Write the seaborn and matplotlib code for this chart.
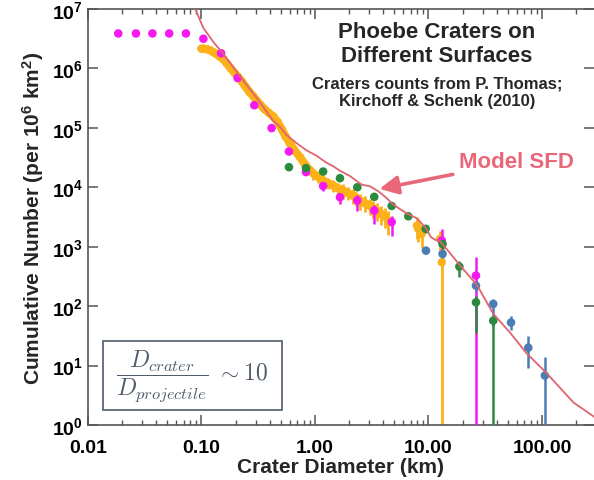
# Phoebe crater size-frequency distributions with the model SFD curve.

import matplotlib
matplotlib.use("Agg")
import matplotlib.pyplot as plt
import seaborn as sns
from matplotlib.ticker import FixedLocator, FixedFormatter, LogLocator, NullLocator
from matplotlib.patches import Rectangle

# model SFD curve
model_d = [0.085, 0.096, 0.104, 0.127, 0.156, 0.218, 0.267, 0.306, 0.43, 0.49,
           0.56, 0.70, 0.84, 1.03, 1.26, 1.45, 1.66, 2.03, 2.32, 2.60,
           3.05, 3.6, 4.2, 4.8, 5.6, 6.5, 7.9, 9.6, 10.5, 11.5,
           12.6, 15.4, 19.0, 26.6, 37.3, 52.2, 73.3, 106, 189, 300]
model_n = [1.2e7, 6.8e6, 4.8e6, 2.8e6, 1.75e6, 7.4e5, 4.5e5, 3.2e5, 1.3e5, 1.05e5,
           7.6e4, 5.4e4, 4.2e4, 3.4e4, 2.6e4, 2.25e4, 1.9e4, 1.55e4, 1.28e4, 1.1e4,
           1.04e4, 8.6e3, 6.8e3, 5.3e3, 4.3e3, 3.6e3, 3.0e3, 2.0e3, 1.45e3, 1.3e3,
           1.25e3, 790, 480, 230, 74, 36, 16, 8.0, 2.4, 1.3]

# yellow counts (dense)
yel_d = [0.100, 0.106, 0.112, 0.119, 0.127, 0.135, 0.144, 0.156, 0.168, 0.181,
         0.195, 0.210, 0.227, 0.245, 0.265, 0.286, 0.306, 0.33, 0.36, 0.39,
         0.43, 0.47, 0.51, 0.55, 0.60, 0.66, 0.74, 0.82, 0.90, 0.97,
         1.07, 1.18, 1.30, 1.45, 1.60, 1.77, 1.95, 2.17, 2.32, 2.49,
         2.75, 3.05, 3.25, 3.50, 3.80, 4.14, 4.43, 7.9, 8.1, 8.7,
         12.6, 13.1]
yel_n = [2.15e6, 2.14e6, 2.10e6, 2.02e6, 1.88e6, 1.75e6, 1.6e6, 1.42e6, 1.2e6, 1.0e6,
         8.5e5, 7.2e5, 6.0e5, 4.9e5, 4.0e5, 3.4e5, 2.9e5, 2.45e5, 2.05e5, 1.8e5,
         1.55e5, 1.25e5, 9.5e4, 7.2e4, 5.5e4, 4.2e4, 3.2e4, 2.4e4, 1.95e4, 1.7e4,
         1.5e4, 1.3e4, 1.18e4, 1.07e4, 9.6e3, 8.8e3, 8.0e3, 7.2e3, 6.6e3, 6.0e3,
         5.4e3, 4.9e3, 4.4e3, 4.05e3, 3.6e3, 3.3e3, 2.75e3, 2.27e3, 2.0e3, 1.64e3,
         1.35e3, 548]
yel_err = [0, 0, 0, 0, 0, 0, 0, 0, 0, 0,
           0, 0, 0, 0, 0, 0, 0, 0, 0, 0,
           0, 0, 0, 0, 0, 0, 0, 0, 3e3, 3.5e3,
           3e3, 3e3, 2.5e3, 2.5e3, 2.2e3, 2.4e3, 2.0e3, 2.0e3, 1.8e3, 1.8e3,
           1.6e3, 1.5e3, 1.4e3, 1.3e3, 1.3e3, 1.2e3, 1.2e3, 900, 800, 700,
           500, 560]

# magenta counts
mag_d = [0.0185, 0.0265, 0.037, 0.052, 0.073, 0.104, 0.149, 0.208, 0.292, 0.415,
         0.59, 0.834, 1.18, 1.66, 2.36, 3.33, 4.74, 13.1, 26.2]
mag_n = [3.87e6, 3.87e6, 3.87e6, 3.87e6, 3.87e6, 3.15e6, 1.8e6, 6.9e5, 2.4e5, 9.9e4,
         4.0e4, 1.8e4, 1.05e4, 6.8e3, 6.0e3, 4.05e3, 2.6e3, 1.27e3, 327]
mag_lo = [0, 0, 0, 0, 0, 0, 0, 0, 0, 0,
          0, 0, 2.0e3, 1.6e3, 2.0e3, 1.6e3, 1.1e3, 350, 327]
mag_hi = [0, 0, 0, 0, 0, 0, 0, 0, 0, 0,
          0, 0, 1.5e3, 1.2e3, 1.3e3, 1.0e3, 700, 730, 340]

# green counts
grn_d = [0.59, 0.834, 1.18, 1.66, 2.36, 3.33, 4.74, 6.64, 9.45, 13.3, 18.7, 26.2, 37.2]
grn_n = [2.18e4, 2.1e4, 1.84e4, 1.42e4, 1.0e4, 6.9e3, 4.85e3, 3.25e3, 2.0e3, 1.11e3, 462, 116, 57]
grn_lo = [0, 0, 0, 0, 0, 0, 0, 0, 300, 200, 156, 80, 57]
grn_hi = [0, 0, 0, 0, 0, 0, 0, 0, 300, 200, 121, 30, 12]

# blue counts
blu_d = [9.5, 13.3, 26.2, 37.2, 53.3, 75.7, 106]
blu_n = [860, 757, 221, 109, 53, 20, 6.8]
blu_lo = [100, 100, 40, 62, 14, 11, 6.8]
blu_hi = [100, 100, 40, 23, 16, 12, 7]

x_ticks = [0.01, 0.1, 1, 10, 100]
x_labels = ["0.01", "0.10", "1.00", "10.00", "100.00"]
y_ticks = [1, 1e1, 1e2, 1e3, 1e4, 1e5, 1e6, 1e7]
y_labels = [r"$10^{%d}$" % k for k in range(8)]

sns.set_style("ticks")
plt.rcParams["font.family"] = ["Liberation Sans", "DejaVu Sans"]
plt.rcParams["font.weight"] = "bold"
plt.rcParams["mathtext.fontset"] = "custom"
plt.rcParams["mathtext.rm"] = "Liberation Sans:bold"
plt.rcParams["mathtext.bf"] = "Liberation Sans:bold"
plt.rcParams["mathtext.it"] = "Liberation Sans:italic:bold"
plt.rcParams["mathtext.default"] = "rm"

YEL = "#FBB117"
MAG = "#F518F0"
GRN = "#2A8A3E"
BLU = "#4A7DB3"
RED = "#E0646F"

fig = plt.figure(figsize=(5.94, 4.81), dpi=100)
ax = fig.add_axes([0.148, 0.1143, 0.852, 0.865])
ax.set_xscale("log")
ax.set_yscale("log")

# yellow: thick band + error bars
ax.errorbar(yel_d, yel_n, yerr=yel_err, fmt="none", ecolor=YEL, elinewidth=2, zorder=2)
n_band = 47
sns.lineplot(x=yel_d[:n_band], y=yel_n[:n_band], color=YEL, lw=5.8, sort=False,
             estimator=None, solid_capstyle="round", ax=ax, zorder=2)
sns.scatterplot(x=yel_d, y=yel_n, color=YEL, s=36, edgecolor="none", ax=ax, zorder=2)

# magenta
ax.errorbar(mag_d, mag_n, yerr=[mag_lo, mag_hi], fmt="none", ecolor=MAG, elinewidth=1.8, zorder=3)
sns.scatterplot(x=mag_d, y=mag_n, color=MAG, s=38, edgecolor="none", ax=ax, zorder=3)

# blue
ax.errorbar(blu_d, blu_n, yerr=[blu_lo, blu_hi], fmt="none", ecolor=BLU, elinewidth=1.8, zorder=4)
sns.scatterplot(x=blu_d, y=blu_n, color=BLU, s=38, edgecolor="none", ax=ax, zorder=4)

# green
ax.errorbar(grn_d, grn_n, yerr=[grn_lo, grn_hi], fmt="none", ecolor=GRN, elinewidth=1.8, zorder=5)
sns.scatterplot(x=grn_d, y=grn_n, color=GRN, s=38, edgecolor="none", ax=ax, zorder=5)

# model line
sns.lineplot(x=model_d, y=model_n, color=RED, lw=1.3, sort=False, estimator=None, ax=ax, zorder=6)

ax.set_xlim(0.01, 287)
ax.set_ylim(1, 1e7)

ax.xaxis.set_major_locator(FixedLocator(x_ticks))
ax.xaxis.set_major_formatter(FixedFormatter(x_labels))
ax.xaxis.set_minor_locator(LogLocator(base=10, subs=[2, 3, 4, 5, 6, 7, 8, 9], numticks=20))
ax.yaxis.set_major_locator(FixedLocator(y_ticks))
ax.yaxis.set_major_formatter(FixedFormatter(y_labels))
ax.yaxis.set_minor_locator(NullLocator())

ax.tick_params(which="both", direction="in", top=True, right=True, color="#555555",
               labelsize=14, labelcolor="black")
ax.tick_params(which="major", length=7, width=1.1)
ax.tick_params(which="minor", length=3.5, width=1.0)
ax.tick_params(axis="x", which="both", pad=10)
for side in ["left", "bottom", "top"]:
    ax.spines[side].set_color("#555555")
    ax.spines[side].set_linewidth(1.2)
ax.spines["right"].set_visible(False)

ax.set_xlabel("Crater Diameter (km)", fontsize=15, fontweight="bold", labelpad=1)
ax.set_ylabel("Cumulative Number (per 10$^{6}$ km$^{2}$)", fontsize=15,
              fontweight="bold", labelpad=4)

ax.text(0.69, 0.917, "Phoebe Craters on\nDifferent Surfaces", transform=ax.transAxes,
        ha="center", va="center", fontsize=16, fontweight="bold")
ax.text(0.69, 0.80, "Craters counts from P. Thomas;\nKirchoff & Schenk (2010)",
        transform=ax.transAxes, ha="center", va="center", fontsize=12, fontweight="bold")

ax.annotate("Model SFD", xy=(3.7, 9.4e3), xytext=(18.5, 2.67e4), color="#E8687A",
            fontsize=16, fontweight="bold", ha="left", va="center",
            arrowprops=dict(arrowstyle="-|>,head_length=0.7,head_width=0.35",
                            color="#E8687A", lw=2.6, shrinkA=2, shrinkB=0))

ax.add_patch(Rectangle((0.0296, 0.036), 0.353, 0.166, transform=ax.transAxes,
                       fill=False, edgecolor="#5B6876", lw=1.3, zorder=7))
ax.text(0.206, 0.119,
        r"$\dfrac{\mathit{D}_{\mathit{crater}}}{\mathit{D}_{\mathit{projectile}}}\ \sim 10$",
        math_fontfamily="cm", transform=ax.transAxes, ha="center", va="center",
        fontsize=17, color="#4F5D6B", zorder=7)

fig.savefig("out.png", dpi=100)
